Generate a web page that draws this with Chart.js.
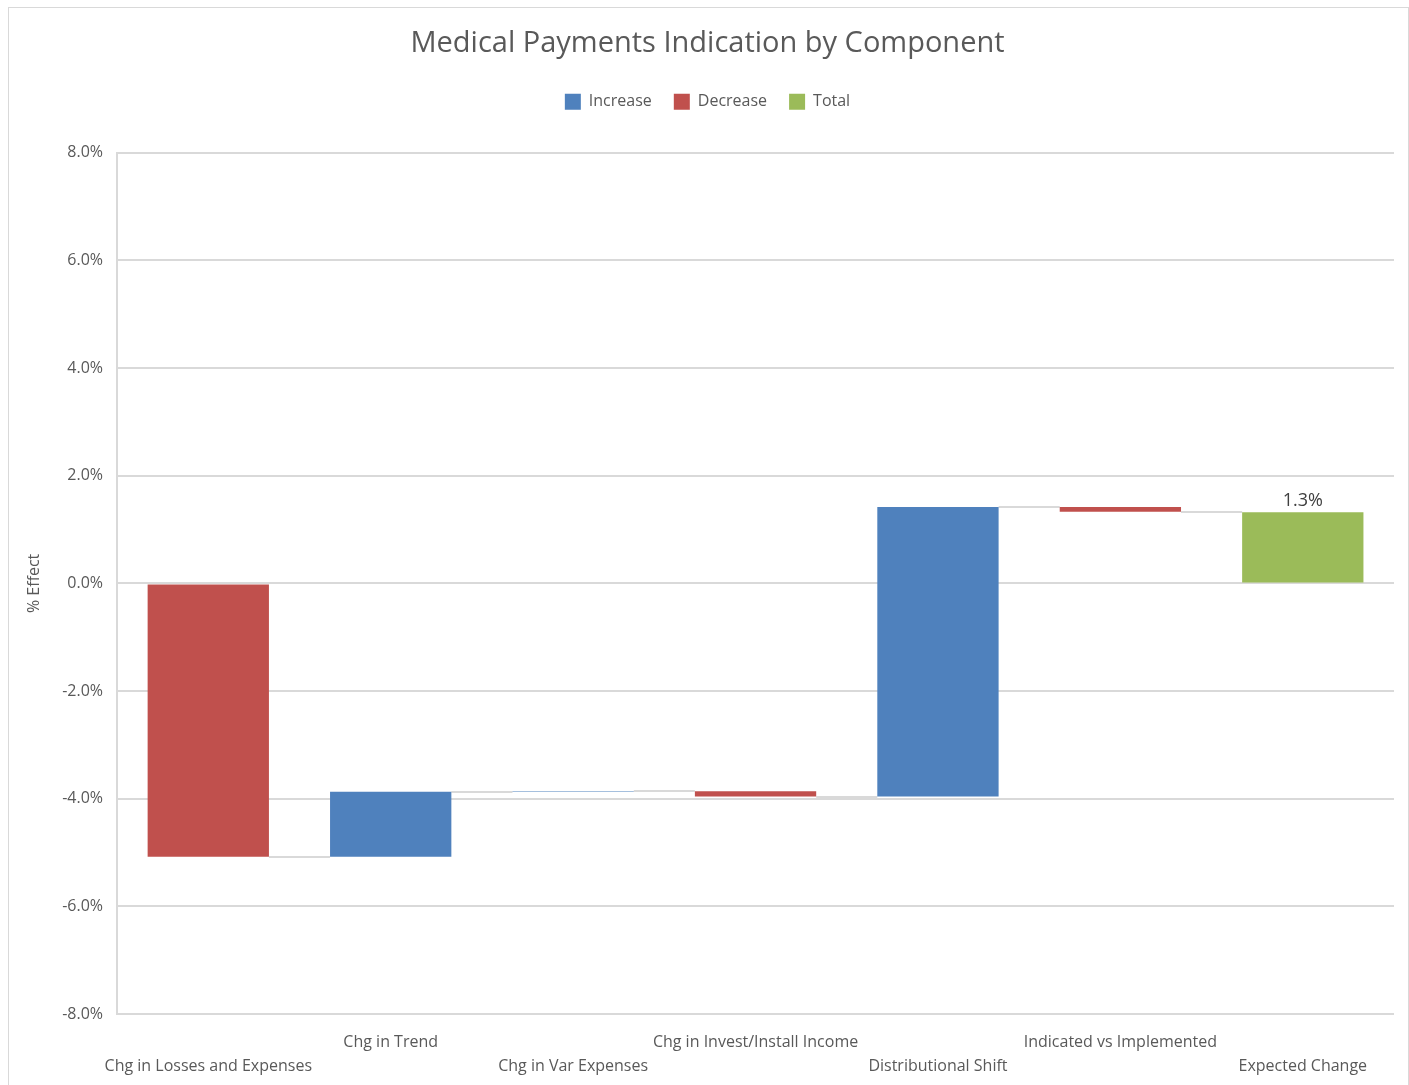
<!DOCTYPE html>
<html>
<head>
<meta charset="utf-8">
<script src="https://cdn.jsdelivr.net/npm/chart.js@4"></script>
<style>
  body { margin: 0; background: #fff; }
  #wrap { position: absolute; left: 8px; top: 7px; width: 1399px; height: 1090px; border: 1px solid #d9d9d9; }
  canvas { position: absolute; left: 0; top: 0; }
</style>
</head>
<body>
<div id="wrap"><canvas id="chart" width="1399" height="1090"></canvas></div>
<script>
const categories = ['Chg in Losses and Expenses', 'Chg in Trend', 'Chg in Var Expenses',
  'Chg in Invest/Install Income', 'Distributional Shift', 'Indicated vs Implemented', 'Expected Change'];
// step effects (%) for every component, last one is the total
const effects = [-5.08, 1.21, 0.01, -0.10, 5.38, -0.09];
const totalValue = 1.32;
const yTicks = [-8, -6, -4, -2, 0, 2, 4, 6, 8];

const increase = [], decrease = [], total = [], levels = [];
let run = 0;
effects.forEach(e => {
  const start = run;
  run += e;
  increase.push(e > 0 ? [start, run] : null);
  decrease.push(e < 0 ? [start, run] : null);
  total.push(null);
  levels.push(run);
});
increase.push(null);
decrease.push(null);
total.push([0, totalValue]);

// stagger the labels on two rows
const labels = categories.map((c, i) => i % 2 === 0 ? ['', c] : [c, '']);

// more room under the legend
const legendMargin = {
  id: 'legendMargin',
  beforeInit(chart) {
    const fit = chart.legend.fit;
    chart.legend.fit = function () {
      fit.bind(chart.legend)();
      this.height += 33;
    };
  }
};

const connectors = {
  id: 'connectors',
  beforeDatasetsDraw(chart) {
    const ctx = chart.ctx;
    const y = chart.scales.y;
    const bars = chart.data.labels.map((_, i) => {
      for (let d = 0; d < 3; d++) {
        const el = chart.getDatasetMeta(d).data[i];
        if (el && chart.data.datasets[d].data[i]) return el;
      }
      return null;
    });
    ctx.save();
    ctx.strokeStyle = '#d9d9d9';
    ctx.lineWidth = 2;
    levels.forEach((lv, i) => {
      const a = bars[i], b = bars[i + 1];
      if (!a || !b) return;
      const py = Math.round(y.getPixelForValue(lv));
      ctx.beginPath();
      ctx.moveTo(a.x + a.width / 2, py);
      ctx.lineTo(b.x - b.width / 2, py);
      ctx.stroke();
    });
    ctx.restore();
  },
  afterDatasetsDraw(chart) {
    const ctx = chart.ctx;
    const el = chart.getDatasetMeta(2).data[6];
    ctx.save();
    ctx.fillStyle = '#404040';
    ctx.font = '18px "Open Sans"';
    ctx.textAlign = 'center';
    ctx.textBaseline = 'bottom';
    ctx.fillText(totalValue.toFixed(1) + '%', el.x, chart.scales.y.getPixelForValue(totalValue) - 2);
    ctx.restore();
  }
};

const ctx = document.getElementById('chart').getContext('2d');
new Chart(ctx, {
  type: 'bar',
  data: {
    labels: labels,
    datasets: [
      { label: 'Increase', data: increase, backgroundColor: '#4f81bd' },
      { label: 'Decrease', data: decrease, backgroundColor: '#c0504d' },
      { label: 'Total', data: total, backgroundColor: '#9bbb59' }
    ]
  },
  plugins: [legendMargin, connectors],
  options: {
    responsive: false,
    animation: false,
    layout: { padding: { left: 12, right: 14, top: 10, bottom: 12 } },
    datasets: { bar: { grouped: false, barPercentage: 0.665, categoryPercentage: 1 } },
    plugins: {
      title: {
        display: true,
        text: 'Medical Payments Indication by Component',
        color: '#595959',
        font: { family: 'Open Sans', size: 29, weight: 'normal' },
        padding: { top: 8, bottom: 11 }
      },
      legend: {
        labels: {
          color: '#595959',
          font: { family: 'Open Sans', size: 16 },
          boxWidth: 16, boxHeight: 16, padding: 22
        }
      },
      tooltip: { enabled: false }
    },
    scales: {
      x: {
        grid: { display: false },
        border: { display: false },
        ticks: {
          color: '#595959',
          font: { family: 'Open Sans', size: 16, lineHeight: 1.5 },
          maxRotation: 0, autoSkip: false, padding: 8
        }
      },
      y: {
        min: yTicks[0], max: yTicks[yTicks.length - 1],
        afterBuildTicks: s => { s.ticks = yTicks.map(v => ({ value: v })); },
        grid: { color: '#d9d9d9', lineWidth: 2, drawTicks: false },
        border: { color: '#d9d9d9', width: 2 },
        title: { display: true, text: '% Effect', color: '#595959', font: { family: 'Open Sans', size: 16 } },
        ticks: {
          color: '#595959',
          font: { family: 'Open Sans', size: 16 },
          padding: 14,
          callback: v => v.toFixed(1) + '%'
        }
      }
    }
  }
});
</script>
</body>
</html>
